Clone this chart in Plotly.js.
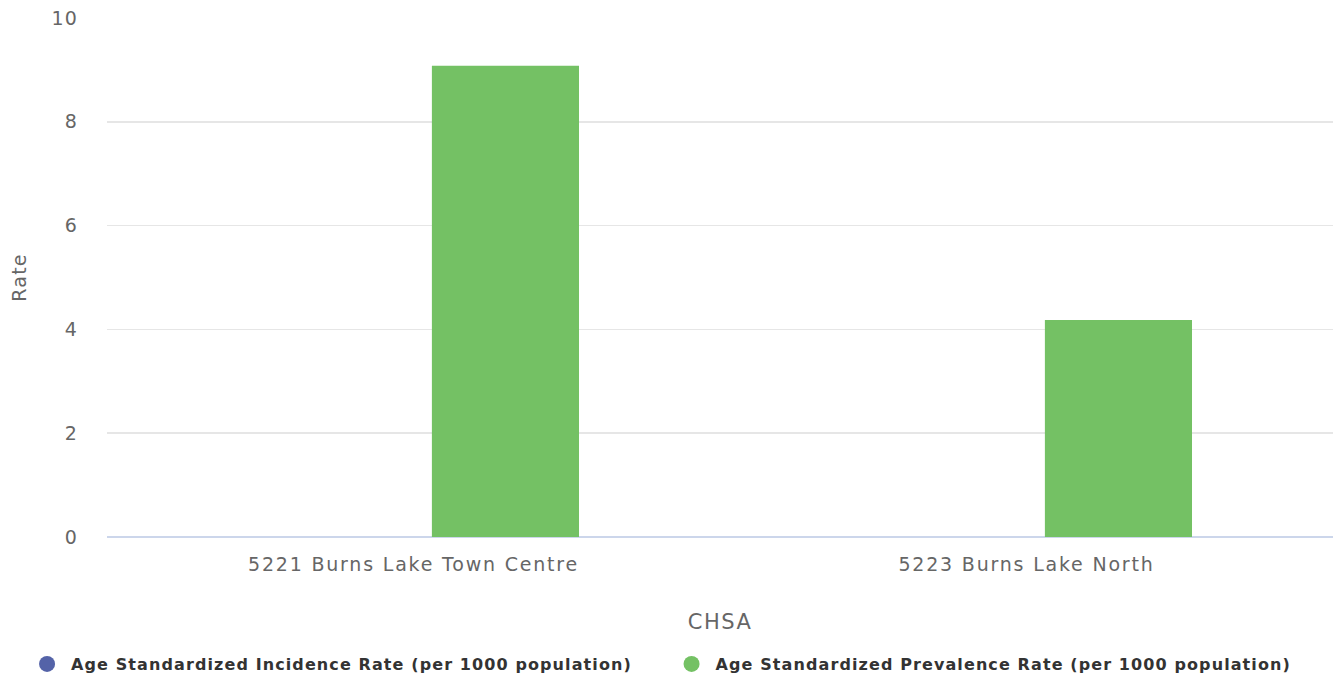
<!DOCTYPE html>
<html>
<head>
<meta charset="utf-8">
<script src="https://cdn.plot.ly/plotly-3.0.1.min.js"></script>
<style>
html,body{margin:0;padding:0;background:#fff;}
#chart{width:1333px;height:681px;}
#chart g.xtick text{letter-spacing:1.8px;}
#chart g.ytick text{letter-spacing:1.2px;}
#chart text.xtitle{letter-spacing:1.5px;}
#chart text.ytitle{letter-spacing:1.2px;}
#chart .legend text, #chart .legend2 text, #chart text.legendtext{letter-spacing:1.1px;}
</style>
</head>
<body>
<div id="chart"></div>
<script>
const categories = ["5221 Burns Lake Town Centre", "5223 Burns Lake North"];
const incidenceName = "Age Standardized Incidence Rate (per 1000 population)";
const prevalenceName = "Age Standardized Prevalence Rate (per 1000 population)";
const incidenceValues = [null, null];
const prevalenceValues = [9.08, 4.18];
const yTicks = [0, 2, 4, 6, 8, 10];
const incidenceColor = "#5463a8";
const prevalenceColor = "#74c164";

const FONT = "DejaVu Sans, Verdana, sans-serif";

const traces = [
  {type: "bar", x: categories, y: incidenceValues, name: incidenceName,
   marker: {color: incidenceColor}, showlegend: false, hoverinfo: "skip"},
  {type: "bar", x: categories, y: prevalenceValues, name: prevalenceName,
   marker: {color: prevalenceColor}, showlegend: false},
  {type: "scatter", mode: "markers", x: [null], y: [null], name: incidenceName,
   marker: {color: incidenceColor, size: 17, symbol: "circle"}, showlegend: true, legend: "legend"},
  {type: "scatter", mode: "markers", x: [null], y: [null], name: prevalenceName,
   marker: {color: prevalenceColor, size: 17, symbol: "circle"}, showlegend: true, legend: "legend2"}
];

const legendFont = {size: 16, color: "#333333", family: FONT, weight: "bold"};

const layout = {
  width: 1333, height: 681,
  margin: {l: 107, r: 0, t: 18, b: 144, autoexpand: false},
  paper_bgcolor: "#ffffff", plot_bgcolor: "#ffffff",
  barmode: "group", bargap: 0.4, bargroupgap: 0.2,
  font: {family: FONT, color: "#666666"},
  xaxis: {
    type: "category",
    tickfont: {size: 19, color: "#666666", family: FONT},
    showgrid: false, ticks: "", showline: false, zeroline: false,
    ticklabelstandoff: 14,
    title: {text: "CHSA", font: {size: 21, color: "#666666", family: FONT}, standoff: 40}
  },
  yaxis: {
    range: [0, 10], tickvals: yTicks, ticktext: yTicks.map(String),
    tickfont: {size: 19, color: "#666666", family: FONT},
    gridcolor: "#e6e6e6", gridwidth: 1.5,
    zeroline: true, zerolinecolor: "#ccd6eb", zerolinewidth: 2,
    ticks: "", ticklabelstandoff: 28,
    title: {text: "Rate", font: {size: 19, color: "#666666", family: FONT}, standoff: 22}
  },
  showlegend: true,
  legend: {
    orientation: "h", xref: "container", x: 0.0173, xanchor: "left",
    yref: "container", y: 0.0, yanchor: "bottom",
    itemwidth: 38, entrywidth: 620,
    font: legendFont, itemclick: false, itemdoubleclick: false
  },
  legend2: {
    orientation: "h", xref: "container", x: 0.5008, xanchor: "left",
    yref: "container", y: 0.0, yanchor: "bottom",
    itemwidth: 38, entrywidth: 620,
    font: legendFont, itemclick: false, itemdoubleclick: false
  }
};

Plotly.newPlot("chart", traces, layout, {displayModeBar: false, staticPlot: true});
</script>
</body>
</html>
